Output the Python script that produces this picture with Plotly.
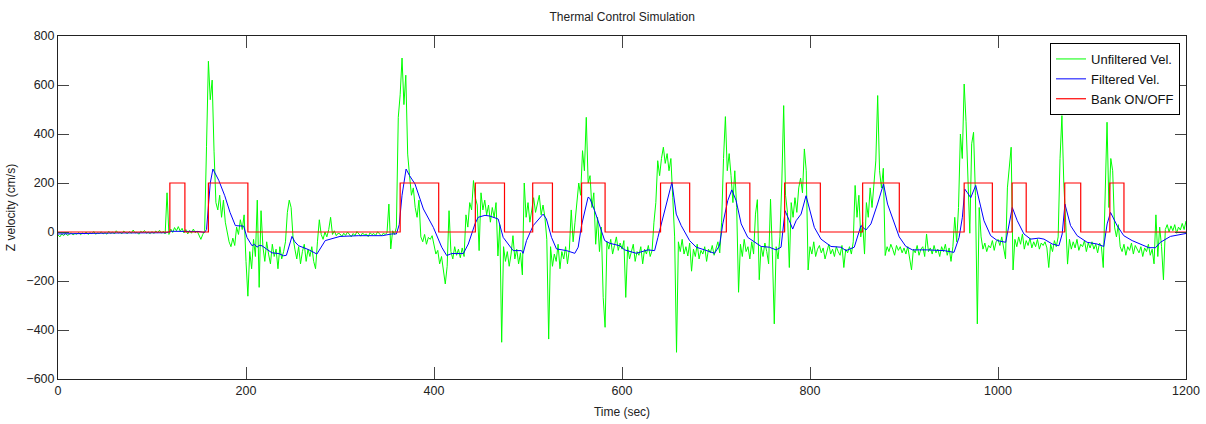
import plotly.graph_objects as go

# ---------------- data ----------------
SAMPLE_STEP = 2  # seconds between unfiltered samples

unfiltered_vel = [
    -12, -20, -8, -15, -5, -14, -10, -3, -12, -6, -9, -2, -11, -4, -8, 0, -10, -3, -7, 2, -9, -4, -6, 1, -8,
    -2, -9, 3, -6, 0, -8, 5, -4, -1, -7, 4, -3, -6, 2, -5, 8, -4, -1, -9, 3, -2, 6, -5, 0, -7,
    2, -6, 4, -3, 7, -5, 3, -8, 160, -10, 12, -2, 18, 5, 22, 3, 15, -4, 10, -8, 6, -5, 12, -3, 4,
    -15, -30, -10, 5, 350, 697, 540, 620, 330, 120, 90, 150, 60, 130, 40, -10, -40, -60, -25, -55, 20, -10, 50, 10, 70,
    -120, -262, -80, -150, -30, -100, 130, -226, 87, -60, -120, -40, -90, -130, -50, -100, -70, -150, -60, -110, -80, -40, 80, 130, 100,
    -20, -70, -110, -60, -130, -80, -50, -120, -70, -100, -60, -120, -150, -40, 50, -10, -30, 0, -20, 10, 60, -10, 5, -15, -5,
    -8, -18, -5, -14, 0, -12, -20, -6, -15, 2, -10, -17, -4, -12, -8, -19, -3, -11, -6, -14, 1, -9, -16, -5, -10,
    -3, 114, -69, 5, -10, 20, 468, 560, 710, 520, 640, 318, 230, 150, 180, 100, 60, 130, -20, -40, -10, -50, -22, -30, -15,
    -60, -90, -75, -130, -100, -170, -212, -140, 87, -80, -110, -60, -95, -70, -105, -65, -100, 70, 20, 120, 90, 210, 140, 110, -76,
    160, 90, 130, 70, 110, 40, 100, 60, 120, -98, 30, -450, -60, -120, -80, -140, -90, -15, -110, -70, -130, -85, -175, 200, 60,
    120, 40, 90, 140, 80, 120, 150, 70, 110, 60, -30, -437, -60, -140, -90, -120, -50, -150, -80, -110, -60, -130, -70, 90, -40,
    40, 120, 200, 150, 332, 250, 468, 200, 230, 100, 160, -50, 60, -80, 20, -267, -389, -40, -70, -30, -90, -55, -20, -75, -45,
    -70, -35, -267, -60, -110, -75, -50, -120, -80, -95, -60, -130, -70, -90, -55, -100, -75, 40, 120, 291, 230, 300, 346, 280, 320,
    250, 300, 140, -20, -491, -40, -80, -30, -90, -60, -98, -45, -160, -70, -100, -50, -110, -75, -90, -60, -120, -70, -85, -55, -95,
    -70, -40, -85, 40, 300, 471, 250, 320, 230, 120, 250, 100, -246, -50, -100, -30, -80, -60, -110, -40, -90, 73, 132, -195, -60,
    -100, -45, -80, -130, 134, -90, -375, -60, -110, -20, 200, 516, 150, 80, -145, 120, 60, 140, 80, 180, 220, 160, 339, 250, -155,
    -60, -90, -40, -100, -70, -55, -85, -65, -110, -75, -50, -90, -70, -100, -60, -80, -95, -55, -145, -70, -85, -60, -90, -40, 190,
    60, 150, -20, 40, -90, 120, 60, 180, 100, 200, 290, 557, 250, 180, 260, -96, -60, -80, -50, -70, -95, -55, -75, -60, -85,
    -65, -90, -60, -100, -155, -70, -85, -55, -95, -70, -60, -100, -8, -80, -65, -90, -55, -85, -70, -100, -60, -80, -50, -95, -65,
    -120, -60, 60, -40, 100, 400, 300, 604, 450, 200, -5, 360, 407, 150, -375, 100, -20, -70, -45, -80, -55, -65, -35, -75, -40,
    -30, -55, -20, -60, -110, 180, 280, 346, -155, -30, -60, -20, -50, -8, -70, -35, -55, -25, -65, -40, -60, -30, -70, -45, -55,
    -40, -65, -145, -50, -80, -35, -60, -20, 300, 475, 200, 40, -131, -30, -70, -40, -65, -30, -75, -50, -60, -35, -80, -45, -65,
    -40, -70, -50, -85, -45, -60, -145, 200, 448, 100, 300, 250, 20, -20, 30, -60, -80, -50, -95, -60, -75, -45, -90, -55, -70,
    -85, -60, -100, -65, -80, -50, -95, -70, -130, 70, -100, 20, -60, -195, 10, 30, 0, 25, 5, 30, -5, 20, 8, 35, 10,
    45,
]
unfiltered_time = [i * SAMPLE_STEP for i in range(len(unfiltered_vel))]

filtered_time = [
    0, 20, 60, 115, 120, 150, 156, 158, 160, 162, 164.8, 168, 171, 177.4, 183, 188.7, 197.5, 201, 206.4, 209,
    211.7, 214, 217, 222, 227.6, 235, 240, 243, 248.9, 252, 256, 266.6, 275.4, 284.3, 295, 300, 320, 345, 355, 360,
    363, 366, 370.3, 374, 379.8, 388.7, 399.3, 408.2, 413.5, 418.8, 431.2, 436.5, 443.6, 447, 454.2, 459.5, 468.3,
    473.6, 478.9, 484.2, 493.1, 494.8, 498.4, 505.5, 516.1, 519.6, 525, 530.3, 541, 549.8, 553.4, 556.9, 563.9,
    565.7, 570.9, 576.3, 581.6, 586.9, 597.5, 602.8, 615.2, 627.6, 634.7, 638.2, 643.5, 648.8, 653.1, 657.7, 663,
    671.9, 679, 687.8, 698.4, 703.7, 707.2, 712.5, 716.8, 721.4, 726.8, 733.8, 740.9, 748, 756.8, 763.9, 769.2,
    773.5, 778, 781.6, 785.2, 790.5, 795.8, 799.3, 804.6, 811.7, 822.3, 832.9, 838.3, 847.1, 850.6, 854.2, 859.5,
    864.8, 871.8, 878.2, 882.5, 889.6, 894.9, 902, 909, 925, 942.6, 953.2, 958.6, 962.1, 964.7, 967.5, 971, 976.3,
    979.8, 985.1, 992.2, 999.3, 1008.2, 1011.7, 1015.2, 1020.5, 1027.6, 1034.7, 1043.5, 1048.9, 1057.7, 1064.8,
    1068.3, 1071.2, 1077.2, 1084.2, 1094.8, 1105.4, 1112.5, 1116.1, 1119.7, 1126.7, 1133.8, 1142.7, 1151.6,
    1160.4, 1167.5, 1172.8, 1183.4, 1195.8, 1200,
]
filtered_vel = [
    -8, -6, -4, -3, 3, 2, -2, 10, 120, 200, 257, 230, 211, 148, 80, 26, 24, -22, -56, -50,
    -62, -55, -56, -70, -85, -88, -97, -95, -18, -40, -56, -72, -90, -35, -22, -18, -15, -15, -8, -8,
    30, 150, 257, 230, 196, 94, 19, -62, -96, -88, -88, -49, 33, 60, 68, 65, 53,
    -22, -49, -76, -76, -87, -35, 26, 73, 53, -22, -69, -76, -87, -62, 26, 142,
    138, 87, 26, -35, -46, -56, -73, -87, -73, -76, -22, 60, 142, 203, 73, 26,
    -35, -62, -73, -87, -56, 33, 128, 172, 128, 33, -22, -40, -59, -62, -73, -62,
    87, 46, 12, 46, 73, 148, 100, 19, -29, -59, -62, -76, -62, -22, 26, 8,
    33, 114, 196, 114, 33, -20, -59, -73, -73, -76, -83, -22, 60, 175, 160, 140, 190,
    128, 46, -15, -35, -42, 33, 100, 46, -8, -29, -25, -29, -49, -56,
    -8, 114, 26, -15, -42, -49, -59, 33, 80, 26, -15, -35, -49,
    -64, -64, -42, -18, -8, -6,
]

bank_time = [0, 119, 135, 160, 202, 364, 405, 444, 475, 505, 526, 557, 582, 641, 672, 711, 736,
             773, 811, 856, 895, 964, 994, 1015, 1030, 1071, 1088, 1119, 1134, 1200]
bank_state = [0, 200, 0, 200, 0, 200, 0, 200, 0, 200, 0, 200, 0, 200, 0, 200, 0,
              200, 0, 200, 0, 200, 0, 200, 0, 200, 0, 200, 0, 0]

x_ticks = [0, 200, 400, 600, 800, 1000, 1200]
y_ticks = [-600, -400, -200, 0, 200, 400, 600, 800]

# ---------------- figure ----------------
FONT = "Liberation Sans, Arial, sans-serif"

fig = go.Figure()
fig.add_trace(go.Scatter(x=unfiltered_time, y=unfiltered_vel, mode="lines",
                         name="Unfiltered Vel.", line=dict(color="#00ff00", width=1)))
fig.add_trace(go.Scatter(x=filtered_time, y=filtered_vel, mode="lines",
                         name="Filtered Vel.", line=dict(color="#0000ff", width=1)))
fig.add_trace(go.Scatter(x=bank_time, y=bank_state, mode="lines", line_shape="hv",
                         name="Bank ON/OFF", line=dict(color="#ff0000", width=1.2)))

fig.update_layout(
    width=1206, height=424,
    margin=dict(l=58, r=20, t=36, b=45, autoexpand=False),
    paper_bgcolor="white", plot_bgcolor="white",
    font=dict(family=FONT, size=12, color="#222"),
    title=dict(text="Thermal Control Simulation", x=0.5159, xanchor="center",
               y=0.96, yanchor="middle", font=dict(family=FONT, size=12, color="#222")),
    showlegend=True,
    legend=dict(x=0.9947, y=0.9796, xanchor="right", yanchor="top",
                bgcolor="white", bordercolor="black", borderwidth=1,
                font=dict(family=FONT, size=13, color="#111"),
                tracegroupgap=0),
)
fig.update_xaxes(range=[0, 1200], tickvals=x_ticks, ticks="inside", ticklen=12,
                 tickcolor="#444", showline=True, linecolor="#222", linewidth=1,
                 mirror="ticks", showgrid=False, zeroline=False, automargin=False,
                 tickfont=dict(size=12.5),
                 title=dict(text="Time (sec)", standoff=10, font=dict(size=12)))
fig.update_yaxes(range=[-600, 800], tickvals=y_ticks, ticks="inside", ticklen=11,
                 tickcolor="#444", showline=True, linecolor="#222", linewidth=1,
                 mirror="ticks", showgrid=False, zeroline=False, automargin=False,
                 tickfont=dict(size=12.5),
                 title=dict(text="Z velocity (cm/s)", standoff=8, font=dict(size=12)))

fig.write_html("out.html")
